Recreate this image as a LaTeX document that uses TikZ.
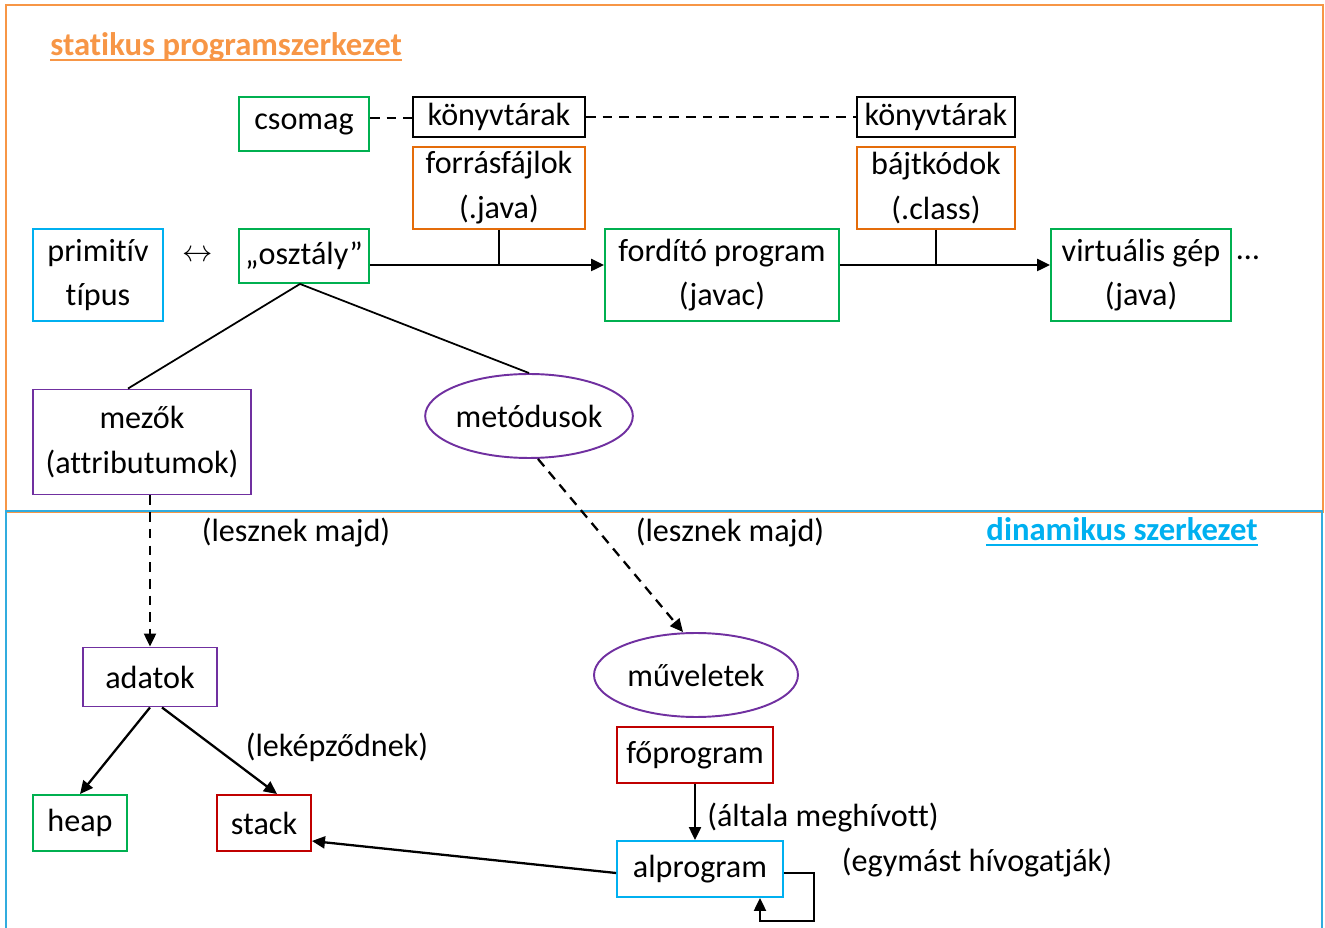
\documentclass[tikz,border=0pt]{standalone}
\usepackage{fontspec}
\setmainfont{Carlito}[Ligatures={NoCommon}]
\usetikzlibrary{arrows.meta,shapes.geometric}
\definecolor{frameorange}{HTML}{F79646}
\definecolor{boxorange}{HTML}{E46C0A}
\definecolor{msgreen}{HTML}{00B050}
\definecolor{msblue}{HTML}{00B0F0}
\definecolor{framblue}{HTML}{31ACDE}
\definecolor{mspurple}{HTML}{7030A0}
\definecolor{msred}{HTML}{C00000}
\newcommand{\bodyfont}{\fontsize{18.3}{25.5}\selectfont}
\newcommand{\headfont}{\fontsize{18.6}{25.5}\selectfont\bfseries}
\tikzset{
  box/.style={draw, line width=1.1pt, inner sep=0pt, align=center, font=\bodyfont},
  oval/.style={draw, line width=1.1pt, ellipse, inner sep=0pt, minimum width=4.08cm, minimum height=1.68cm, font=\bodyfont, draw=mspurple},
  lbl/.style={font=\bodyfont, inner sep=1pt},
  link/.style={line width=1pt},
  arr/.style={line width=1.3pt, -{Triangle[length=0.26cm,width=0.24cm]}},
  dashlink/.style={line width=1.1pt, dash pattern=on 5.5pt off 4pt},
  dasharr/.style={line width=1.3pt, dash pattern=on 5.5pt off 4pt, -{Triangle[length=0.26cm,width=0.24cm]}},
}
\begin{document}
\begin{tikzpicture}[x=0.02cm, y=-0.02cm]
  \useasboundingbox (0,0) rectangle (1325,928);
  \draw[frameorange, line width=1.1pt] (6,5) rectangle (1323,512);
  \draw[framblue, line width=1.1pt] (6,935) -- (6,511) -- (1322,511) -- (1322,935);
  \node[anchor=base west, inner sep=0pt, text=frameorange, font=\headfont] (stat) at (50,56) {statikus programszerkezet};
  \draw[frameorange, line width=1.2pt] ([yshift=-0.08cm]stat.base west) -- ([yshift=-0.08cm]stat.base east);
  \node[anchor=base east, inner sep=0pt, text=msblue, font=\headfont] (dyn) at (1258,541) {dinamikus szerkezet};
  \draw[msblue, line width=1.2pt] ([yshift=-0.08cm]dyn.base west) -- ([yshift=-0.08cm]dyn.base east);

  \node[box, draw=msgreen, minimum width=2.6cm, minimum height=1.08cm] (csomag) at (304,124) {csomag};
  \node[box, draw=black, minimum width=3.44cm, minimum height=0.8cm] (konyv1) at (499,117) {könyvtárak};
  \node[box, draw=boxorange, minimum width=3.44cm, minimum height=1.64cm] (forras) at (499,188) {forrásfájlok\\(.java)};
  \node[box, draw=black, minimum width=3.16cm, minimum height=0.8cm] (konyv2) at (936,117) {könyvtárak};
  \node[box, draw=boxorange, minimum width=3.16cm, minimum height=1.64cm] (bajt) at (936,188) {bájtkódok\\(.class)};
  \node[box, draw=msblue, minimum width=2.6cm, minimum height=1.84cm] (primitiv) at (98,275) {primitív\\típus};
  \node[lbl] (nyil) at (198,256) {$\leftrightarrow$};
  \node[box, draw=msgreen, minimum width=2.6cm, minimum height=1.08cm] (osztaly) at (304,256) {„osztály”};
  \node[box, draw=msgreen, minimum width=4.68cm, minimum height=1.84cm] (fordito) at (722,275) {fordító program\\(javac)};
  \node[box, draw=msgreen, minimum width=3.6cm, minimum height=1.84cm] (virtualis) at (1141,275) {virtuális gép\\(java)};
  \node[lbl] (pontok) at (1248,258) {…};
  \node[box, draw=mspurple, minimum width=4.36cm, minimum height=2.1cm] (mezok) at (142,442) {mezők\\(attributumok)};
  \node[oval] (metodusok) at (529,416) {metódusok};

  \node[lbl] (lesz1) at (296,532) {(lesznek majd)};
  \node[lbl] (lesz2) at (730,532) {(lesznek majd)};
  \node[box, draw=mspurple, minimum width=2.68cm, minimum height=1.18cm] (adatok) at (150,677) {adatok};
  \node[oval] (muveletek) at (696,675) {műveletek};
  \node[lbl] (lekep) at (337,747) {(leképződnek)};
  \node[box, draw=msgreen, minimum width=1.88cm, minimum height=1.12cm] (heap) at (80,823) {heap};
  \node[box, draw=msred, minimum width=1.88cm, minimum height=1.12cm] (stack) at (264,823) {stack};
  \node[box, draw=msred, minimum width=3.12cm, minimum height=1.12cm] (fo) at (695,755) {főprogram};
  \node[lbl] (altala) at (823,818) {(általa meghívott)};
  \node[box, draw=msblue, minimum width=3.32cm, minimum height=1.12cm] (alprogram) at (700,869) {alprogram};
  \node[lbl] (egymast) at (977,863) {(egymást hívogatják)};

  \draw[dashlink] ([yshift=0.12cm]csomag.east) -- ([yshift=0.12cm]csomag.east -| konyv1.west);
  \draw[dashlink] (konyv1.east) -- (konyv2.west);

  \coordinate (ax) at ([yshift=-0.18cm]osztaly.east);
  \draw[arr] (ax) -- (ax -| fordito.west);
  \draw[link] (forras.south) -- (forras.south |- ax);
  \draw[arr] (ax -| fordito.east) -- (ax -| virtualis.west);
  \draw[link] (bajt.south) -- (bajt.south |- ax);

  \draw[link] ([xshift=-0.08cm]osztaly.south) -- ([xshift=-0.28cm]mezok.north);
  \draw[link] ([xshift=-0.08cm]osztaly.south) -- (metodusok.north);
  \draw[dasharr] (mezok.south -| adatok.north) -- (adatok.north);
  \draw[dasharr] ([xshift=0.18cm]metodusok.south) -- ([xshift=-0.26cm]muveletek.north);

  \draw[arr] (adatok.south) -- (heap.north);
  \draw[arr] ([xshift=0.24cm]adatok.south) -- ([xshift=0.26cm]stack.north);
  \draw[arr] (fo.south) -- (fo.south |- alprogram.north);
  \draw[arr] ([yshift=-0.08cm]alprogram.west) -- ([yshift=-0.36cm]stack.east);
  \draw[arr] ([yshift=-0.08cm]alprogram.east) -- ++(30,0) |- ([xshift=1.2cm,yshift=-0.46cm]alprogram.south) -- ([xshift=1.2cm]alprogram.south);
\end{tikzpicture}
\end{document}
